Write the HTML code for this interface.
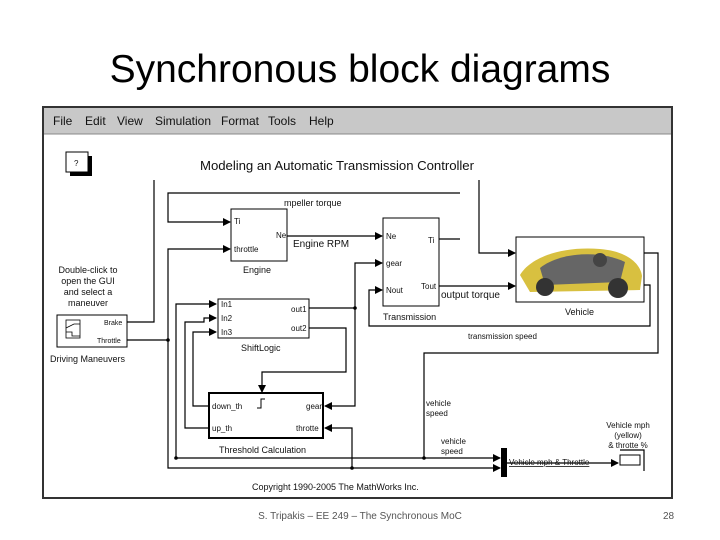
<!DOCTYPE html>
<html><head><style>
body{margin:0;background:#fff;}
svg{display:block;}
text{font-family:"Liberation Sans",sans-serif;fill:#111;}
</style></head><body>
<svg width="720" height="540" viewBox="0 0 720 540" xmlns="http://www.w3.org/2000/svg">
<defs>
<marker id="a" markerWidth="8" markerHeight="8" refX="7" refY="4" orient="auto" markerUnits="userSpaceOnUse">
<path d="M0,0 L8,4 L0,8 z" fill="#000"/></marker>
</defs>
<text x="360" y="82" font-size="39" text-anchor="middle" style="fill:#000">Synchronous block diagrams</text>

<rect x="43" y="107" width="629" height="391" fill="#fff" stroke="#333" stroke-width="2"/>
<rect x="44" y="108" width="627" height="26" fill="#c8c8c8"/>
<line x1="44" y1="134" x2="671" y2="134" stroke="#888"/>
<g font-size="12">
<text x="53" y="125">File</text><text x="85" y="125">Edit</text><text x="117" y="125">View</text>
<text x="155" y="125">Simulation</text><text x="221" y="125">Format</text><text x="268" y="125">Tools</text><text x="309" y="125">Help</text>
</g>

<rect x="70" y="156" width="22" height="20" fill="#000"/>
<rect x="66" y="152" width="22" height="20" fill="#fff" stroke="#000"/>
<text x="74" y="166" font-size="8">?</text>
<text x="200" y="170" font-size="13.2" textLength="274">Modeling an Automatic Transmission Controller</text>

<g fill="none" stroke="#000" stroke-width="1.2">
<polyline points="127,322 154,322 154,180"/>
<polyline points="460,193 168,193 168,222 230,222" marker-end="url(#a)"/>
<polyline points="127,340 168,340"/>
<polyline points="168,340 168,249 230,249" marker-end="url(#a)"/>
<polyline points="287,236 382,236" marker-end="url(#a)"/>
<polyline points="439,239 460,239"/>
<polyline points="479,180 479,253 515,253" marker-end="url(#a)"/>
<polyline points="439,286 515,286" marker-end="url(#a)"/>
<polyline points="644,285 650,285 650,326 369,326 369,290 382,290" marker-end="url(#a)"/>
<polyline points="644,253 658,253 658,353 424,353 424,458"/>
<polyline points="309,308 355,308 355,263 382,263" marker-end="url(#a)"/>
<polyline points="355,308 355,406 325,406" marker-end="url(#a)"/>
<polyline points="309,328 346,328 346,372 262,372 262,392" marker-end="url(#a)"/>
<polyline points="352,468 352,428 325,428" marker-end="url(#a)"/>
<polyline points="176,458 500,458" marker-end="url(#a)"/>
<polyline points="168,340 168,468 500,468" marker-end="url(#a)"/>
<polyline points="176,458 176,304 216,304" marker-end="url(#a)"/>
<polyline points="209,428 185,428 185,322 204,322 204,318 216,318" marker-end="url(#a)"/>
<polyline points="209,406 193,406 193,332 216,332" marker-end="url(#a)"/>
<polyline points="507,463 618,463" marker-end="url(#a)"/>
<polyline points="620,450 644,450 644,471"/>
</g>
<g fill="#000">
<circle cx="168" cy="340" r="1.8"/><circle cx="355" cy="308" r="1.8"/>
<circle cx="424" cy="458" r="1.8"/><circle cx="352" cy="468" r="1.8"/><circle cx="176" cy="458" r="1.8"/>
</g>

<rect x="231" y="209" width="56" height="52" fill="#fff" stroke="#000"/>
<g font-size="8"><text x="234" y="224">Ti</text><text x="234" y="252">throttle</text><text x="276" y="238">Ne</text></g>
<text x="243" y="273" font-size="9">Engine</text>
<text x="284" y="206" font-size="9">mpeller torque</text>
<text x="293" y="247" font-size="10">Engine RPM</text>

<rect x="383" y="218" width="56" height="88" fill="#fff" stroke="#000"/>
<g font-size="8"><text x="386" y="239">Ne</text><text x="386" y="266">gear</text><text x="386" y="293">Nout</text>
<text x="428" y="243">Ti</text><text x="421" y="289">Tout</text></g>
<text x="383" y="320" font-size="9">Transmission</text>
<text x="441" y="298" font-size="10">output torque</text>
<text x="468" y="339" font-size="8">transmission speed</text>

<rect x="516" y="237" width="128" height="65" fill="#fff" stroke="#000"/>
<path d="M520,275 C530,258 560,246 600,249 C625,251 640,262 642,276 L640,290 L530,292 Z" fill="#d8c040"/>
<path d="M540,268 C560,252 600,250 625,262 L620,282 L545,285 Z" fill="#666"/>
<circle cx="545" cy="287" r="9" fill="#333"/><circle cx="618" cy="288" r="10" fill="#333"/>
<circle cx="600" cy="260" r="7" fill="#444"/>
<text x="565" y="315" font-size="9">Vehicle</text>

<rect x="218" y="299" width="91" height="39" fill="#fff" stroke="#000"/>
<g font-size="8"><text x="221" y="307">In1</text><text x="221" y="321">In2</text><text x="221" y="335">In3</text>
<text x="291" y="312">out1</text><text x="291" y="331">out2</text></g>
<text x="241" y="351" font-size="9">ShiftLogic</text>

<rect x="209" y="393" width="114" height="45" fill="#fff" stroke="#000" stroke-width="2"/>
<g font-size="8"><text x="212" y="409">down_th</text><text x="212" y="431">up_th</text>
<text x="306" y="409">gear</text><text x="296" y="431">throtte</text></g>
<path d="M257,408 L261,408 L261,399 L265,399" fill="none" stroke="#000"/>
<text x="219" y="453" font-size="9">Threshold Calculation</text>

<g font-size="9" text-anchor="middle"><text x="88" y="273">Double-click to</text><text x="88" y="284">open the GUI</text>
<text x="88" y="295">and select a</text><text x="88" y="306">maneuver</text></g>
<rect x="57" y="315" width="70" height="32" fill="#fff" stroke="#000"/>
<rect x="66" y="320" width="14" height="18" fill="none" stroke="#000" stroke-width="0.8"/>
<path d="M66,328 L74,324 L80,324 M66,332 L72,332 L72,336 L80,336" fill="none" stroke="#000" stroke-width="0.8"/>
<g font-size="7"><text x="104" y="325">Brake</text><text x="97" y="343">Throttle</text></g>
<text x="50" y="362" font-size="9">Driving Maneuvers</text>

<rect x="501" y="448" width="6" height="29" fill="#000"/>
<rect x="620" y="455" width="20" height="10" fill="#fff" stroke="#000"/>
<g font-size="8"><text x="426" y="406">vehicle</text><text x="426" y="416">speed</text>
<text x="441" y="444">vehicle</text><text x="441" y="454">speed</text>
<text x="509" y="465" text-decoration="underline">Vehicle mph &amp; Throttle</text></g>
<g font-size="8" text-anchor="middle"><text x="628" y="428">Vehicle mph</text><text x="628" y="438">(yellow)</text><text x="628" y="448">&amp; throtte %</text></g>

<text x="252" y="490" font-size="9">Copyright 1990-2005 The MathWorks Inc.</text>

<text x="360" y="519" font-size="10" text-anchor="middle" style="fill:#555">S. Tripakis – EE 249 – The Synchronous MoC</text>
<text x="663" y="519" font-size="10" style="fill:#555">28</text>
</svg>
</body></html>
